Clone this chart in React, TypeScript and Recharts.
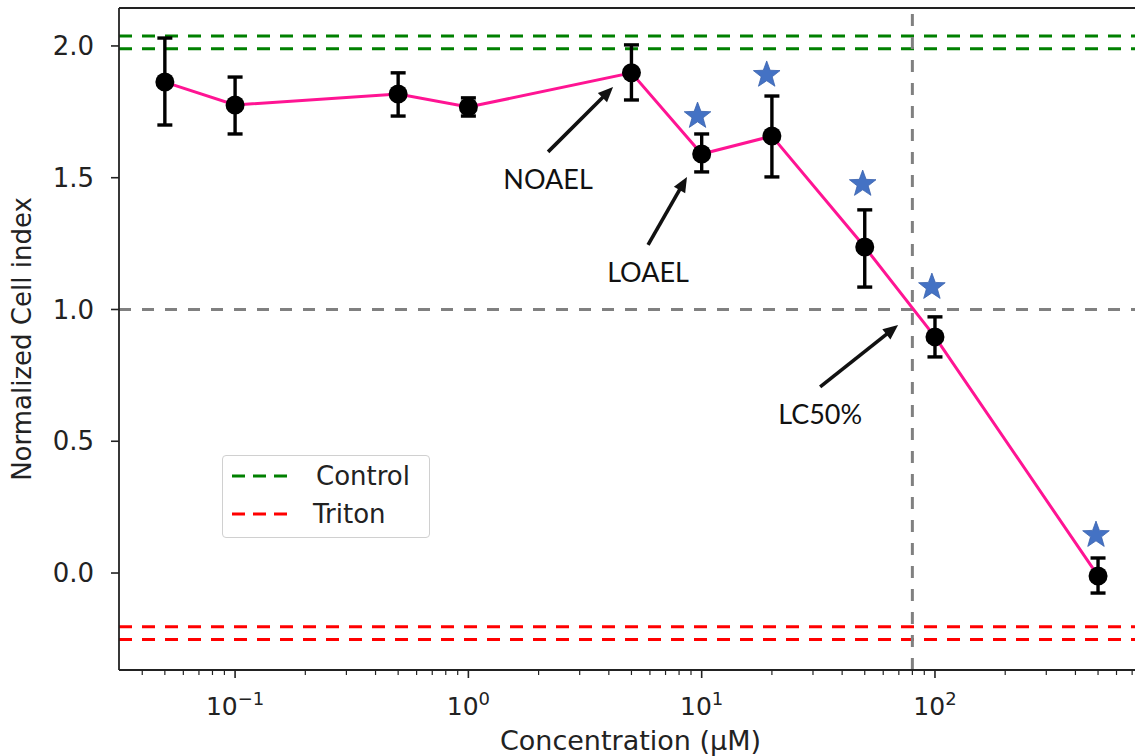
import {
  ComposedChart,
  ErrorBar,
  Legend,
  Line,
  ReferenceLine,
  Scatter,
  XAxis,
  YAxis,
} from "recharts";

// concentrations (µM) and normalized cell index readings
const conc = [0.05, 0.1, 0.5, 1, 5, 10, 20, 50, 100, 500];
const meanIndex = [1.863, 1.776, 1.818, 1.768, 1.898, 1.59, 1.658, 1.237, 0.896, -0.011];
const lowIndex = [1.7, 1.666, 1.734, 1.734, 1.795, 1.522, 1.503, 1.085, 0.82, -0.076];
const highIndex = [2.03, 1.882, 1.898, 1.803, 2.004, 1.666, 1.81, 1.378, 0.972, 0.057];

// significance stars
const starConc = [9.6, 19, 49, 97, 490];
const starY = [1.734, 1.89, 1.476, 1.085, 0.144];

// control / triton bands
const controlLevels = [2.038, 1.989];
const tritonLevels = [-0.204, -0.252];
const halfLevel = 1.0;
const lc50Conc = 80;

const legendItems = [
  { name: "Control", color: "#008000" },
  { name: "Triton", color: "#ff0000" },
];

// annotation arrows: [tail, head]
const arrowLabels = ["NOAEL", "LOAEL", "LC50%"];
const arrowTail = [
  [2.196, 1.598],
  [5.89, 1.245],
  [32.2, 0.706],
];
const arrowHead = [
  [4.17, 1.844],
  [8.65, 1.503],
  [69.5, 0.941],
];

const xMajor = [0.1, 1, 10, 100];
const xExp = ["\u22121", "0", "1", "2"];
const xMinor = [
  0.04, 0.05, 0.06, 0.07, 0.08, 0.09,
  0.2, 0.3, 0.4, 0.5, 0.6, 0.7, 0.8, 0.9,
  2, 3, 4, 5, 6, 7, 8, 9,
  20, 30, 40, 50, 60, 70, 80, 90,
  200, 300, 400, 500, 600, 700, 800,
];
const yTicks = [0, 0.5, 1, 1.5, 2];

const xDomain = [0.0318, 835];
const yDomain = [-0.368, 2.144];

const data = conc.map((x, i) => ({
  x,
  y: meanIndex[i],
  err: [meanIndex[i] - lowIndex[i], highIndex[i] - meanIndex[i]],
}));
const stars = starConc.map((x, i) => ({ x, y: starY[i] }));

const AXIS = "#222";
const FONT = "DejaVu Sans, sans-serif";

function XTick({ x, y, payload }: any) {
  const i = xMajor.indexOf(payload.value);
  if (i < 0) {
    return <line x1={x} x2={x} y1={y} y2={y + 5} stroke={AXIS} strokeWidth={1.2} />;
  }
  return (
    <g>
      <line x1={x} x2={x} y1={y} y2={y + 8} stroke={AXIS} strokeWidth={1.6} />
      <text x={x} y={y + 45} textAnchor="middle" fontSize={25} fill={AXIS} fontFamily={FONT}>
        10
        <tspan dy={-10} fontSize={18}>
          {xExp[i]}
        </tspan>
      </text>
    </g>
  );
}

function Star({ cx, cy }: any) {
  const pts: string[] = [];
  for (let k = 0; k < 10; k++) {
    const r = k % 2 === 0 ? 14 : 5.8;
    const a = -Math.PI / 2 + (k * Math.PI) / 5;
    pts.push(`${cx + r * Math.cos(a)},${cy + r * Math.sin(a)}`);
  }
  return <polygon points={pts.join(" ")} fill="#4472c4" stroke="#3a62ad" strokeWidth={0.8} />;
}

function Dot({ cx, cy }: any) {
  return <circle cx={cx} cy={cy} r={9.5} fill="#000" />;
}

function arrowShape(label: string) {
  return (p: any) => {
    const { x1, y1, x2, y2 } = p;
    const dx = x2 - x1;
    const dy = y2 - y1;
    const len = Math.hypot(dx, dy);
    const ux = dx / len;
    const uy = dy / len;
    const hl = 15;
    const hw = 6.5;
    const bx = x2 - ux * hl;
    const by = y2 - uy * hl;
    return (
      <g>
        <line x1={x1} y1={y1} x2={bx + ux * 2} y2={by + uy * 2} stroke="#111" strokeWidth={3.6} />
        <polygon
          points={`${x2},${y2} ${bx - uy * hw},${by + ux * hw} ${bx + uy * hw},${by - ux * hw}`}
          fill="#111"
        />
        <text
          x={x1}
          y={y1 + 27}
          textAnchor="middle"
          dominantBaseline="central"
          fontSize={27}
          fill="#111"
          fontFamily="Lato, sans-serif"
        >
          {label}
        </text>
      </g>
    );
  };
}

function LegendBox() {
  return (
    <div
      style={{
        position: "relative",
        width: 206,
        height: 81,
        border: "1.5px solid #d0d0d0",
        borderRadius: 4,
        background: "rgba(255,255,255,0.85)",
        fontFamily: FONT,
        fontSize: 26,
        color: AXIS,
      }}
    >
      {legendItems.map((it, i) => (
        <div
          key={it.name}
          style={{ position: "absolute", left: 9, top: 5 + i * 38, height: 30, display: "flex", alignItems: "center" }}
        >
          <svg width={60} height={8}>
            <line x1={0} x2={60} y1={4} y2={4} stroke={it.color} strokeWidth={3} strokeDasharray="13 8" />
          </svg>
          <span style={{ marginLeft: i === 0 ? 24 : 21 }}>{it.name}</span>
        </div>
      ))}
    </div>
  );
}

export default function App() {
  return (
    <div
      style={{
        position: "absolute",
        left: 0,
        top: 0,
        width: 1135,
        height: 756,
        overflow: "hidden",
        background: "#fff",
      }}
    >
      <ComposedChart width={1160} height={756} margin={{ top: 8, right: 10, bottom: 0, left: 0 }}>
        <XAxis
          dataKey="x"
          type="number"
          scale="log"
          domain={xDomain}
          allowDataOverflow
          ticks={[...xMajor, ...xMinor]}
          interval={0}
          tick={<XTick />}
          tickLine={false}
          tickSize={0}
          tickMargin={0}
          height={86}
          axisLine={{ stroke: AXIS, strokeWidth: 1.8 }}
          label={(p: any) => (
            <text
              x={p.viewBox.x + p.viewBox.width / 2 - 4}
              y={p.viewBox.y + 80}
              textAnchor="middle"
              fontSize={27}
              fill={AXIS}
              fontFamily={FONT}
            >
              Concentration (μM)
            </text>
          )}
        />
        <YAxis
          type="number"
          domain={yDomain}
          allowDataOverflow
          ticks={yTicks}
          interval={0}
          width={119}
          tickSize={8}
          tickMargin={17}
          tickFormatter={(v: number) => v.toFixed(1)}
          tick={{ fontSize: 26, fill: AXIS, fontFamily: FONT }}
          tickLine={{ stroke: AXIS, strokeWidth: 1.6 }}
          axisLine={{ stroke: AXIS, strokeWidth: 1.8 }}
          label={(p: any) => {
            const cx = p.viewBox.x + 22;
            const cy = p.viewBox.y + p.viewBox.height / 2;
            return (
              <text
                x={cx}
                y={cy}
                transform={`rotate(-90 ${cx} ${cy})`}
                textAnchor="middle"
                dominantBaseline="central"
                fontSize={26}
                fill={AXIS}
                fontFamily={FONT}
              >
                Normalized Cell index
              </text>
            );
          }}
        />
        <ReferenceLine y={yDomain[1]} stroke={AXIS} strokeWidth={1.8} />
        {controlLevels.map((v) => (
          <ReferenceLine key={`c${v}`} y={v} stroke="#008000" strokeWidth={3} strokeDasharray="13 10" />
        ))}
        {tritonLevels.map((v) => (
          <ReferenceLine key={`t${v}`} y={v} stroke="#ff0000" strokeWidth={3} strokeDasharray="13 10" />
        ))}
        <ReferenceLine y={halfLevel} stroke="#808080" strokeWidth={3} strokeDasharray="12 11" />
        <ReferenceLine x={lc50Conc} stroke="#808080" strokeWidth={3} strokeDasharray="12 11" />
        <Line
          data={data}
          dataKey="y"
          stroke="#ff1493"
          strokeWidth={3}
          dot={<Dot />}
          activeDot={false}
          isAnimationActive={false}
        >
          <ErrorBar dataKey="err" direction="y" width={7.5} stroke="#000" strokeWidth={3.4} isAnimationActive={false} />
        </Line>
        <Scatter data={stars} dataKey="y" shape={<Star />} isAnimationActive={false} />
        {arrowLabels.map((label, i) => (
          <ReferenceLine
            key={label}
            segment={[
              { x: arrowTail[i][0], y: arrowTail[i][1] },
              { x: arrowHead[i][0], y: arrowHead[i][1] },
            ]}
            shape={arrowShape(label)}
          />
        ))}
        <Legend
          layout="horizontal"
          verticalAlign="middle"
          align="center"
          wrapperStyle={{ left: 222, top: 455, width: 210, height: 84 }}
          content={() => <LegendBox />}
        />
      </ComposedChart>
    </div>
  );
}
